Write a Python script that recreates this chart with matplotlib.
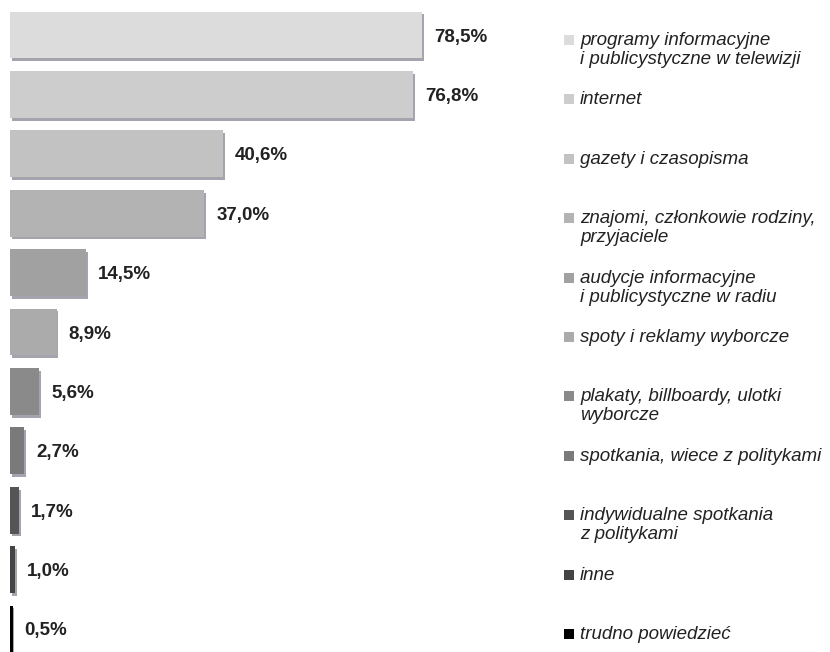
import matplotlib
matplotlib.use("Agg")
import matplotlib.pyplot as plt
import matplotlib.patheffects as pe

categories = [
    "programy informacyjne\ni publicystyczne w telewizji",
    "internet",
    "gazety i czasopisma",
    "znajomi, członkowie rodziny,\nprzyjaciele",
    "audycje informacyjne\ni publicystyczne w radiu",
    "spoty i reklamy wyborcze",
    "plakaty, billboardy, ulotki\nwyborcze",
    "spotkania, wiece z politykami",
    "indywidualne spotkania\nz politykami",
    "inne",
    "trudno powiedzieć",
]
values = [78.5, 76.8, 40.6, 37.0, 14.5, 8.9, 5.6, 2.7, 1.7, 1.0, 0.5]
labels = ["78,5%", "76,8%", "40,6%", "37,0%", "14,5%", "8,9%", "5,6%", "2,7%", "1,7%", "1,0%", "0,5%"]
colors = ["#dcdcdc", "#cdcdcd", "#c2c2c2", "#b3b3b3", "#a1a1a1", "#ababab",
          "#8a8a8a", "#7a7a7a", "#555555", "#444444", "#000000"]

plt.rcParams['font.family'] = ['Liberation Sans', 'DejaVu Sans']

W, H = 830, 652
fig = plt.figure(figsize=(W / 100, H / 100), dpi=100)
x0 = 10
ax = fig.add_axes([x0 / W, 0, 1 - x0 / W, 1])
px_per_unit = 5.25
step = 59.4
yc0 = 35
ax.set_xlim(0, (W - x0) / px_per_unit)
ax.set_ylim((H - yc0) / step, -yc0 / step)
ax.axis('off')

ypos = list(range(len(values)))
bars = ax.barh(ypos, values, height=0.79, color=colors, linewidth=0)
for b in bars:
    b.set_path_effects([pe.SimplePatchShadow(offset=(1.2, -2.0), shadow_rgbFace='#4a4a60', alpha=0.5),
                        pe.Normal()])

for y, v, lab in zip(ypos, values, labels):
    ax.text(v + 12 / px_per_unit, y + 2 / step, lab, va='center', ha='left',
            fontsize=13.5, fontweight='bold', color='#222222')

leg_sq_x = (569 - x0) / px_per_unit
leg_tx_x = (580 - x0) / px_per_unit
for y, c, cat in zip(ypos, colors, categories):
    ax.plot([leg_sq_x], [y + 5 / step], marker='s', markersize=7.2, color=c,
            markeredgewidth=0, clip_on=False)
    ax.text(leg_tx_x, y - 3 / step, cat, va='top', ha='left', fontsize=13.5,
            fontstyle='italic', color='#222222', linespacing=1.15)

fig.savefig("out.png", dpi=100)
